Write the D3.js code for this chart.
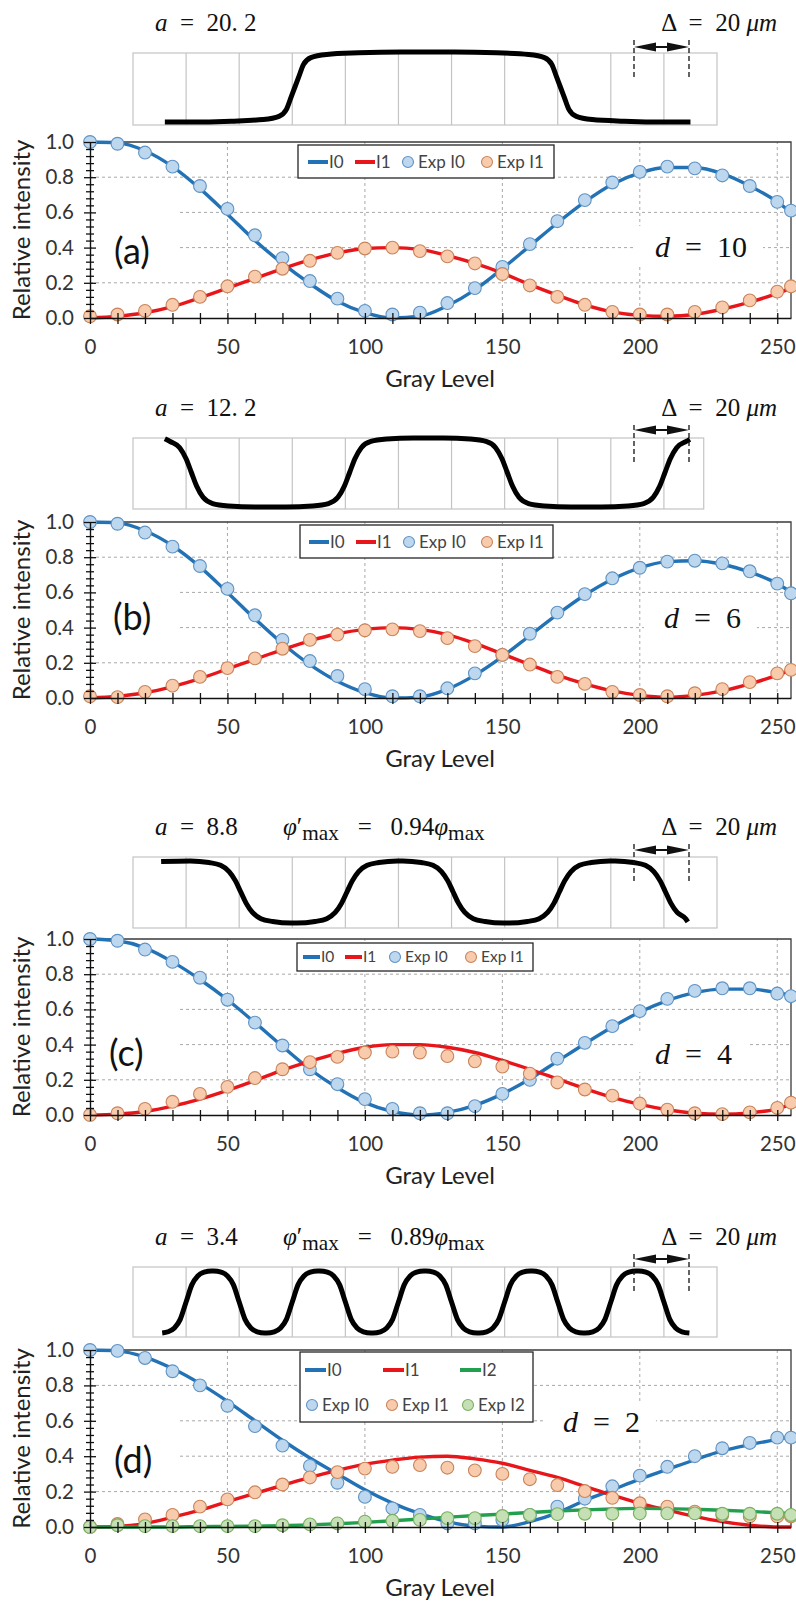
<!DOCTYPE html>
<html>
<head>
<meta charset="utf-8">
<script src="https://cdn.jsdelivr.net/npm/d3@7"></script>
<style>
  body { margin: 0; background: #fff; }
  svg { display: block; }
  .math { font-family: "Liberation Serif", "DejaVu Serif", serif; white-space: pre; }
</style>
</head>
<body>
<div id="chart"></div>
<script>
// gray levels where the curves / measurements are read
var grayLevels = [0,10,20,30,40,50,60,70,80,90,100,110,120,130,140,150,160,170,180,190,200,210,220,230,240,250,255];

// panel (a), d = 10
var aI0    = [1.0,0.995,0.95,0.86,0.735,0.59,0.44,0.31,0.195,0.095,0.03,0.0,0.01,0.07,0.16,0.28,0.41,0.54,0.66,0.76,0.825,0.855,0.855,0.82,0.75,0.66,0.6];
var aI1    = [0.0,0.01,0.03,0.065,0.115,0.17,0.225,0.28,0.33,0.37,0.395,0.40,0.39,0.355,0.31,0.255,0.19,0.13,0.075,0.035,0.015,0.01,0.02,0.05,0.09,0.14,0.17];
var aExpI0 = [1.0,0.99,0.94,0.86,0.75,0.62,0.47,0.34,0.21,0.11,0.04,0.02,0.03,0.085,0.17,0.29,0.42,0.55,0.67,0.77,0.83,0.86,0.85,0.81,0.75,0.66,0.61];
var aExpI1 = [0.01,0.02,0.04,0.075,0.12,0.18,0.235,0.28,0.325,0.37,0.395,0.40,0.38,0.35,0.31,0.25,0.185,0.12,0.075,0.035,0.02,0.02,0.035,0.06,0.10,0.15,0.18];

// panel (b), d = 6
var bI0    = [1.0,0.995,0.95,0.865,0.745,0.6,0.45,0.31,0.19,0.095,0.03,0.0,0.005,0.05,0.13,0.235,0.355,0.475,0.585,0.675,0.74,0.775,0.78,0.76,0.715,0.65,0.6];
var bI1    = [0.0,0.01,0.03,0.065,0.11,0.165,0.22,0.275,0.325,0.365,0.39,0.40,0.39,0.36,0.31,0.25,0.19,0.13,0.08,0.04,0.015,0.005,0.015,0.04,0.08,0.13,0.16];
var bExpI0 = [1.0,0.99,0.94,0.86,0.75,0.62,0.47,0.33,0.21,0.125,0.05,0.01,0.01,0.055,0.14,0.245,0.365,0.485,0.59,0.68,0.74,0.775,0.78,0.765,0.72,0.65,0.595];
var bExpI1 = [0.01,0.005,0.035,0.07,0.12,0.17,0.225,0.28,0.33,0.36,0.385,0.39,0.38,0.34,0.295,0.245,0.19,0.12,0.08,0.035,0.017,0.01,0.027,0.05,0.09,0.14,0.16];

// panel (c), d = 4
var cI0    = [1.0,0.99,0.95,0.87,0.77,0.655,0.525,0.39,0.26,0.155,0.07,0.02,0.0,0.015,0.055,0.12,0.205,0.305,0.405,0.5,0.585,0.65,0.695,0.715,0.715,0.695,0.68];
var cI1    = [0.0,0.005,0.02,0.05,0.09,0.14,0.195,0.255,0.305,0.35,0.385,0.40,0.40,0.385,0.355,0.31,0.26,0.205,0.15,0.10,0.06,0.03,0.01,0.005,0.012,0.035,0.06];
var cExpI0 = [1.0,0.99,0.94,0.87,0.78,0.655,0.525,0.395,0.26,0.175,0.09,0.035,0.01,0.01,0.05,0.12,0.2,0.32,0.41,0.505,0.59,0.66,0.705,0.72,0.72,0.69,0.675];
var cExpI1 = [0.0,0.01,0.035,0.075,0.12,0.16,0.21,0.26,0.30,0.33,0.355,0.36,0.355,0.335,0.305,0.275,0.235,0.185,0.145,0.11,0.065,0.03,0.01,0.005,0.015,0.04,0.07];

// panel (d), d = 2
var dI0    = [1.0,0.995,0.96,0.895,0.81,0.71,0.6,0.49,0.39,0.30,0.21,0.135,0.075,0.03,0.005,0.0,0.03,0.08,0.15,0.21,0.27,0.325,0.38,0.43,0.465,0.495,0.51];
var dI1    = [0.0,0.003,0.02,0.055,0.095,0.143,0.19,0.235,0.28,0.32,0.355,0.378,0.395,0.40,0.385,0.36,0.32,0.28,0.23,0.18,0.134,0.096,0.06,0.03,0.01,0.0,0.0];
var dI2    = [0.0,0.0,0.0,0.0,0.002,0.003,0.005,0.008,0.012,0.018,0.026,0.035,0.045,0.055,0.065,0.073,0.082,0.09,0.097,0.102,0.105,0.104,0.1,0.095,0.088,0.08,0.076];
var dExpI0 = [1.0,0.995,0.955,0.88,0.80,0.685,0.57,0.46,0.345,0.25,0.17,0.105,0.068,0.02,0.02,0.04,0.068,0.115,0.16,0.23,0.29,0.34,0.40,0.445,0.475,0.505,0.505];
var dExpI1 = [0.0,0.017,0.043,0.068,0.115,0.156,0.196,0.24,0.28,0.31,0.33,0.34,0.35,0.335,0.32,0.30,0.27,0.237,0.203,0.165,0.134,0.115,0.087,0.068,0.06,0.06,0.06];
var dExpI2 = [0.0,0.01,0.005,0.005,0.005,0.005,0.005,0.01,0.015,0.02,0.03,0.035,0.04,0.05,0.05,0.062,0.068,0.073,0.075,0.075,0.077,0.077,0.077,0.075,0.075,0.075,0.068];

// phase profile sketches: edge centres in pixel-cell units (+1 rise, -1 fall),
// and the shape of one rising edge as [offset in cells, level]
var edgesA = [[3.05, 1], [8.05, -1]];
var edgesB = [[1.1, -1], [4.08, 1], [7.05, -1], [10.02, 1]];
var edgesC = [[2.03, -1], [4.03, 1], [6.03, -1], [8.03, 1], [10.03, -1]];
var edgesD = [[1, 1], [2, -1], [3, 1], [4, -1], [5, 1], [6, -1], [7, 1], [8, -1], [9, 1], [10, -1]];
var shapeA = [[-2,0],[-1.2,0.012],[-0.6,0.035],[-0.3,0.08],[-0.16,0.18],[-0.07,0.36],[0,0.5],[0.07,0.64],[0.16,0.82],[0.3,0.92],[0.6,0.965],[1.2,0.988],[2,1]];
var shapeB = [[-1.2,0],[-0.7,0.015],[-0.4,0.05],[-0.22,0.14],[-0.1,0.3],[0,0.5],[0.1,0.7],[0.22,0.86],[0.4,0.95],[0.7,0.985],[1.2,1]];
var shapeC = [[-0.95,0],[-0.6,0.025],[-0.38,0.07],[-0.22,0.17],[-0.1,0.32],[0,0.5],[0.1,0.68],[0.22,0.83],[0.38,0.93],[0.6,0.975],[0.95,1]];
var shapeD = [[-0.48,0],[-0.34,0.02],[-0.22,0.08],[-0.11,0.22],[0,0.5],[0.11,0.78],[0.22,0.92],[0.34,0.98],[0.48,1]];

var lineColors = ["#2272b5", "#e8161b", "#23a04f"];
var dotFill    = ["#bdd7ee", "#f8cbad", "#c5e0b4"];
var dotStroke  = ["#5f93c4", "#c8845a", "#7ab062"];
var seriesNames = ["I0", "I1", "I2"];

var width = 796, height = 1603;

var svg = d3.select("#chart")
  .append("svg")
    .attr("width", width)
    .attr("height", height)
    .style("font-family", "Lato, 'Noto Sans', sans-serif");

var x = d3.scaleLinear().domain([0, 255]).range([90, 791]);
var cell = d3.scaleLinear().domain([0, 11]).range([133, 717]);

var panels = [
  { tag: "(a)", top: 142, bottom: 318, boxTop: 53, boxBottom: 125, cells: 11, lowY: 122, highY: 52,
    headY: 31, aVal: "20. 2", phi: null, arrowY: 47, dashTop: 40, dashBot: 80,
    tagY: 264, tagX: 114, dVal: "10", dX: 655, dY: 257,
    start: [0.6, 0], end: [10.5, 0], edges: edgesA, shape: shapeA,
    theory: [aI0, aI1], exp: [aExpI0, aExpI1],
    legend: { box: [298, 145, 256, 33], font: 17, lineW: 20,
      items: [["line", 0, 308, 162], ["line", 1, 355, 162], ["dot", 0, 408, 162], ["dot", 1, 487, 162]] } },
  { tag: "(b)", top: 522, bottom: 698, boxTop: 438, boxBottom: 509, cells: 10.75, lowY: 507, highY: 438,
    headY: 416, aVal: "12. 2", phi: null, arrowY: 430, dashTop: 425, dashBot: 463,
    tagY: 630, tagX: 113, dVal: "6", dX: 664, dY: 628,
    start: [0.6, 0.99], end: [10.49, 0.98], edges: edgesB, shape: shapeB,
    theory: [bI0, bI1], exp: [bExpI0, bExpI1],
    legend: { box: [300, 525, 253, 33], font: 17, lineW: 20,
      items: [["line", 0, 309, 542], ["line", 1, 356, 542], ["dot", 0, 409, 542], ["dot", 1, 487, 542]] } },
  { tag: "(c)", top: 939, bottom: 1115, boxTop: 857, boxBottom: 928, cells: 11, lowY: 923, highY: 861,
    headY: 835, aVal: "8.8", phi: "0.94", arrowY: 850, dashTop: 844, dashBot: 882,
    tagY: 1066, tagX: 109, dVal: "4", dX: 655, dY: 1064,
    start: [0.53, 0.99], end: [10.45, 0.02], edges: edgesC, shape: shapeC,
    theory: [cI0, cI1], exp: [cExpI0, cExpI1],
    legend: { box: [297, 943, 236, 28], font: 15.5, lineW: 17,
      items: [["line", 0, 303, 957], ["line", 1, 345, 957], ["dot", 0, 395, 957], ["dot", 1, 471, 957]] } },
  { tag: "(d)", top: 1350, bottom: 1527, boxTop: 1267, boxBottom: 1337, cells: 11, lowY: 1333, highY: 1271,
    headY: 1245, aVal: "3.4", phi: "0.89", arrowY: 1259, dashTop: 1254, dashBot: 1294,
    tagY: 1473, tagX: 114, dVal: "2", dX: 563, dY: 1432,
    start: [0.55, 0], end: [10.48, 0], edges: edgesD, shape: shapeD,
    theory: [dI0, dI1, dI2], exp: [dExpI0, dExpI1, dExpI2],
    legend: { box: [300, 1352, 233, 70], font: 17, lineW: 21,
      items: [["line", 0, 305, 1370], ["line", 1, 383, 1370], ["line", 2, 460, 1370],
              ["dot", 0, 312, 1405], ["dot", 1, 392, 1405], ["dot", 2, 468, 1405]] } }
];

// writes a small math expression made of tspans
function mathText(sel, px, py, parts, size, anchor) {
  var t = sel.append("text").attr("class", "math")
    .attr("x", px).attr("y", py)
    .attr("font-size", size)
    .attr("text-anchor", anchor || "start")
    .attr("fill", "#111");
  parts.forEach(function(part) {
    var s = t.append("tspan").text(part.t);
    if (part.it) s.attr("font-style", "italic");
    if (part.sub) s.attr("font-size", size * 0.85).attr("dy", 5);
    if (part.up) s.attr("dy", -5);
  });
  return t;
}

panels.forEach(function(p) {
  var g = svg.append("g");
  var y = d3.scaleLinear().domain([0, 1]).range([p.bottom, p.top]);

  // ---- phase profile sketch above the chart
  var level = d3.scaleLinear().domain([0, 1]).range([p.lowY, p.highY]);
  g.append("rect")
    .attr("x", cell(0)).attr("y", p.boxTop)
    .attr("width", cell(p.cells) - cell(0)).attr("height", p.boxBottom - p.boxTop)
    .attr("fill", "none").attr("stroke", "#c4c4c4").attr("stroke-width", 1.2);
  g.selectAll(".cellLine").data(d3.range(1, 11)).join("line")
    .attr("x1", function(d) { return cell(d); }).attr("x2", function(d) { return cell(d); })
    .attr("y1", p.boxTop).attr("y2", p.boxBottom)
    .attr("stroke", "#c4c4c4").attr("stroke-width", 1.2);

  var pts = [p.start];
  p.edges.forEach(function(e) {
    p.shape.forEach(function(s) {
      var cx = e[0] + s[0];
      if (cx > p.start[0] && cx < p.end[0]) pts.push([cx, e[1] > 0 ? s[1] : 1 - s[1]]);
    });
  });
  pts.push(p.end);
  g.append("path").datum(pts)
    .attr("fill", "none").attr("stroke", "#000").attr("stroke-width", 5)
    .attr("d", d3.line()
      .x(function(d) { return cell(d[0]); })
      .y(function(d) { return level(d[1]); })
      .curve(d3.curveMonotoneX));

  // delta marker
  [634, 689].forEach(function(dx) {
    g.append("line").attr("x1", dx).attr("x2", dx)
      .attr("y1", p.dashTop).attr("y2", p.dashBot)
      .attr("stroke", "#111").attr("stroke-width", 1.3).attr("stroke-dasharray", "5,3");
  });
  g.append("line").attr("x1", 640).attr("x2", 683).attr("y1", p.arrowY).attr("y2", p.arrowY)
    .attr("stroke", "#111").attr("stroke-width", 2);
  g.append("path").attr("fill", "#111")
    .attr("d", "M634," + p.arrowY + "L656," + (p.arrowY - 4.5) + "L656," + (p.arrowY + 4.5) + "Z" +
               "M689," + p.arrowY + "L667," + (p.arrowY - 4.5) + "L667," + (p.arrowY + 4.5) + "Z");

  mathText(g, 155, p.headY, [{t: "a", it: true}, {t: "  =  " + p.aVal}], 25);
  mathText(g, 777, p.headY, [{t: "\u0394  =  20 "}, {t: "\u03bcm", it: true}], 25, "end");
  if (p.phi) {
    mathText(g, 283, p.headY, [{t: "\u03c6", it: true}, {t: "\u2032"}, {t: "max", sub: true},
      {t: "   =   " + p.phi, up: true}, {t: "\u03c6", it: true}, {t: "max", sub: true}], 25);
  }

  // ---- gridlines
  g.selectAll(".hgrid").data([0.2, 0.4, 0.6, 0.8]).join("line")
    .attr("x1", x(0)).attr("x2", x(255))
    .attr("y1", function(d) { return y(d); }).attr("y2", function(d) { return y(d); })
    .attr("stroke", "#a8a8a8").attr("stroke-dasharray", "3,3");
  g.selectAll(".vgrid").data([50, 100, 150, 200, 250]).join("line")
    .attr("x1", function(d) { return x(d); }).attr("x2", function(d) { return x(d); })
    .attr("y1", y(0)).attr("y2", y(1))
    .attr("stroke", "#a8a8a8").attr("stroke-dasharray", "3,3");

  // plot border top / right
  g.append("path")
    .attr("d", "M" + x(0) + "," + y(1) + "H" + x(255) + "V" + y(0))
    .attr("fill", "none").attr("stroke", "#3a3a3a").attr("stroke-width", 1.3);

  // panel tag and d text (white boxes hide gridlines)
  g.append("rect").attr("x", x(0) + 2).attr("y", p.tagY - 66)
    .attr("width", 88).attr("height", 74).attr("fill", "#fff");
  g.append("text").attr("x", p.tagX).attr("y", p.tagY)
    .attr("font-size", 36).attr("fill", "#111").text(p.tag);
  var dt = mathText(g, p.dX, p.dY, [{t: "d", it: true}, {t: "  =  " + p.dVal}], 30);
  var bb = dt.node().getBBox();
  g.insert("rect", function() { return dt.node(); })
    .attr("x", bb.x - 20).attr("y", bb.y - 4)
    .attr("width", bb.width + 36).attr("height", bb.height + 6).attr("fill", "#fff");

  // ---- theory curves
  p.theory.forEach(function(vals, i) {
    g.append("path")
      .datum(grayLevels.map(function(gl, k) { return [gl, vals[k]]; }))
      .attr("fill", "none").attr("stroke", lineColors[i]).attr("stroke-width", 3.4)
      .attr("d", d3.line()
        .x(function(d) { return x(d[0]); })
        .y(function(d) { return y(d[1]); })
        .curve(d3.curveMonotoneX));
  });

  // ---- measured points
  p.exp.forEach(function(vals, i) {
    g.selectAll(".exp" + i)
      .data(grayLevels.map(function(gl, k) { return [gl, vals[k]]; }))
      .join("circle")
        .attr("cx", function(d) { return x(d[0]); })
        .attr("cy", function(d) { return y(d[1]); })
        .attr("r", 6.4)
        .attr("fill", dotFill[i]).attr("stroke", dotStroke[i]).attr("stroke-width", 1.1);
  });

  // ---- axes
  var xAxis = g.append("g")
    .attr("transform", "translate(0," + y(0) + ")")
    .call(d3.axisBottom(x)
      .tickValues(d3.range(0, 251, 10))
      .tickSize(6).tickSizeOuter(0)
      .tickFormat(function(d) { return d % 50 === 0 ? d : ""; }));
  xAxis.select(".domain").attr("stroke", "#111").attr("stroke-width", 1.4);
  xAxis.selectAll(".tick line").attr("y1", -5).attr("stroke", "#111").attr("stroke-width", 1.3);
  xAxis.selectAll(".tick text").attr("y", 21).attr("dy", "0.71em")
    .style("font-size", "20.5px").style("font-family", "Lato, sans-serif").attr("fill", "#333");

  var isMajor = function(d) { return Math.abs(d * 5 - Math.round(d * 5)) < 1e-6; };
  var yAxis = g.append("g")
    .attr("transform", "translate(" + x(0) + ",0)")
    .call(d3.axisLeft(y)
      .tickValues(d3.range(0, 1.0001, 0.04))
      .tickSize(6).tickSizeOuter(0)
      .tickFormat(function(d) { return isMajor(d) ? d3.format(".1f")(d) : ""; }));
  yAxis.select(".domain").attr("stroke", "#111").attr("stroke-width", 1.4);
  yAxis.selectAll(".tick line")
    .attr("x1", function(d) { return isMajor(d) ? 6 : 4; })
    .attr("x2", function(d) { return isMajor(d) ? -6 : -4; })
    .attr("stroke", "#111").attr("stroke-width", 1.3);
  yAxis.selectAll(".tick text").attr("x", -16)
    .style("font-size", "20.5px").style("font-family", "Lato, sans-serif").attr("fill", "#333");

  g.append("text")
    .attr("transform", "translate(30," + ((p.top + p.bottom) / 2) + ") rotate(-90)")
    .attr("text-anchor", "middle").attr("font-size", 24).attr("fill", "#222")
    .text("Relative intensity");
  g.append("text")
    .attr("x", 440).attr("y", p.bottom + 69)
    .attr("text-anchor", "middle").attr("font-size", 24).attr("fill", "#222")
    .text("Gray Level");

  // ---- legend
  var L = p.legend;
  g.append("rect").attr("x", L.box[0]).attr("y", L.box[1])
    .attr("width", L.box[2]).attr("height", L.box[3])
    .attr("fill", "#fff").attr("stroke", "#262626").attr("stroke-width", 1.3);
  L.items.forEach(function(it) {
    var i = it[1];
    if (it[0] === "line") {
      g.append("line").attr("x1", it[2]).attr("x2", it[2] + L.lineW)
        .attr("y1", it[3]).attr("y2", it[3])
        .attr("stroke", lineColors[i]).attr("stroke-width", 4);
      g.append("text").attr("x", it[2] + L.lineW + 1).attr("y", it[3]).attr("dy", "0.35em")
        .attr("font-size", L.font).attr("fill", "#444").text(seriesNames[i]);
    } else {
      g.append("circle").attr("cx", it[2]).attr("cy", it[3]).attr("r", 5.5)
        .attr("fill", dotFill[i]).attr("stroke", dotStroke[i]).attr("stroke-width", 1.1);
      g.append("text").attr("x", it[2] + 10).attr("y", it[3]).attr("dy", "0.35em")
        .attr("font-size", L.font).attr("fill", "#444").text("Exp " + seriesNames[i]);
    }
  });
});
</script>
</body>
</html>
